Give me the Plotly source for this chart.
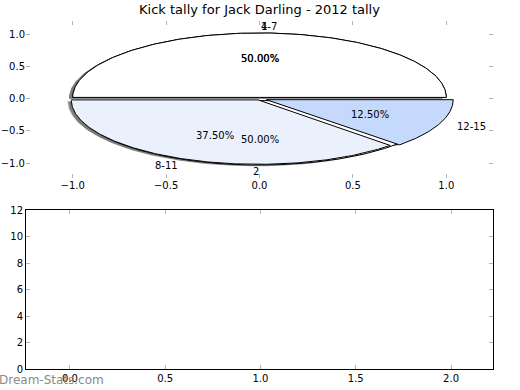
import numpy as np
import plotly.graph_objects as go

# ---- data ----
title_text = "Kick tally for Jack Darling - 2012 tally"
pie1_labels = ["1", "2"]
pie1_values = [1, 1]
pie2_labels = ["4-7", "8-11", "12-15"]
pie2_values = [4, 3, 1]
pie_xticks = [-1.0, -0.5, 0.0, 0.5, 1.0]
pie_yticks = [-1.0, -0.5, 0.0, 0.5, 1.0]
bar_xticks = [0.0, 0.5, 1.0, 1.5, 2.0]
bar_yticks = [0, 2, 4, 6, 8, 10, 12]
watermark = "Dream-Stats.com"

# ---- style ----
pie1_colors = ["#ffffff", "#ffffff"]
pie1_explode = [0.02, 0.03]
pie2_colors = ["#ffffff", "#eaf1fd", "#c5d9fc"]
pie2_explode = [0.02, 0.02, 0.04]
FONT = "DejaVu Sans"
W, H = 520, 390


def pie_geometry(values, explode):
    total = float(sum(values))
    start = 0.0
    out = []
    for v, e in zip(values, explode):
        t1 = start
        t2 = start + 360.0 * v / total
        mid = np.deg2rad((t1 + t2) / 2.0)
        cx, cy = e * np.cos(mid), e * np.sin(mid)
        arc = np.deg2rad(np.linspace(t1, t2, 200))
        xs = np.concatenate([[cx], cx + np.cos(arc), [cx]])
        ys = np.concatenate([[cy], cy + np.sin(arc), [cy]])
        out.append(dict(xs=xs, ys=ys, mid=mid, cx=cx, cy=cy, frac=v / total))
        start = t2
    return out


g1 = pie_geometry(pie1_values, pie1_explode)
g2 = pie_geometry(pie2_values, pie2_explode)

fig = go.Figure()

# shadows (behind all wedges)
for g in g1 + g2:
    fig.add_trace(go.Scatter(x=g["xs"] - 0.02, y=g["ys"] - 0.02, mode="lines",
                             fill="toself", fillcolor="rgba(77,77,77,0.5)",
                             line=dict(width=0), hoverinfo="skip",
                             xaxis="x", yaxis="y"))
# wedges
for geoms, cols in ((g1, pie1_colors), (g2, pie2_colors)):
    for g, c in zip(geoms, cols):
        fig.add_trace(go.Scatter(x=g["xs"], y=g["ys"], mode="lines",
                                 fill="toself", fillcolor=c,
                                 line=dict(color="black", width=1),
                                 hoverinfo="skip", xaxis="x", yaxis="y"))

annotations = []
for geoms, labels in ((g1, pie1_labels), (g2, pie2_labels)):
    for g, lab in zip(geoms, labels):
        lx = g["cx"] + 1.1 * np.cos(g["mid"])
        ly = g["cy"] + 1.1 * np.sin(g["mid"])
        annotations.append(dict(x=lx, y=ly, xref="x", yref="y", text=lab,
                                showarrow=False,
                                xanchor="left" if np.cos(g["mid"]) > 0 else "right",
                                yanchor="middle", borderpad=0,
                                font=dict(family=FONT, size=10, color="black")))
        px = g["cx"] + 0.6 * np.cos(g["mid"])
        py = g["cy"] + 0.6 * np.sin(g["mid"])
        annotations.append(dict(x=px, y=py, xref="x", yref="y",
                                text="%.2f%%" % (100 * g["frac"]),
                                showarrow=False, xanchor="center", yanchor="middle",
                                borderpad=0,
                                font=dict(family=FONT, size=10, color="black")))

annotations.append(dict(x=-2 / W, y=1 - 380 / H, xref="paper", yref="paper",
                        text=watermark, showarrow=False, xanchor="left",
                        yanchor="middle", borderpad=0,
                        font=dict(family=FONT, size=12, color="#8a8a8a")))

# empty lower axes
fig.add_trace(go.Scatter(x=[], y=[], xaxis="x2", yaxis="y2", mode="markers"))

xdom = [26 / W, 493 / W]
tickcol = "#b4b4b4"
common = dict(ticks="inside", ticklen=4, tickcolor=tickcol, mirror="ticks",
              showgrid=False, zeroline=False, automargin=False,
              tickfont=dict(family=FONT, size=10, color="black"))
fig.update_layout(
    width=W, height=H,
    margin=dict(l=0, r=0, t=0, b=0),
    paper_bgcolor="white", plot_bgcolor="white",
    showlegend=False,
    font=dict(family=FONT, size=10, color="black"),
    title=dict(text=title_text, x=259.5 / W, xanchor="center",
               y=1 - 9.5 / H, yanchor="middle", yref="container",
               font=dict(family=FONT, size=13, color="black")),
    xaxis=dict(domain=xdom, range=[-1.25, 1.25], anchor="y",
               tickvals=pie_xticks, tickformat=".1f", showline=False, **common),
    yaxis=dict(domain=[1 - 178 / H, 1 - 21 / H], range=[-1.231, 1.206], anchor="x",
               tickvals=pie_yticks, tickformat=".1f", showline=False, **common),
    xaxis2=dict(domain=xdom, range=[-0.23, 2.22], anchor="y2",
                tickvals=bar_xticks, tickformat=".1f",
                showline=True, linecolor="black", linewidth=1, **common),
    yaxis2=dict(domain=[1 - 369 / H, 1 - 210 / H], range=[0, 12], anchor="x2",
                tickvals=bar_yticks,
                showline=True, linecolor="black", linewidth=1, **common),
    annotations=annotations,
)

fig.write_html("out.html", config={"displayModeBar": False},
               post_script="document.body.style.margin='0';document.body.style.overflow='hidden';")
